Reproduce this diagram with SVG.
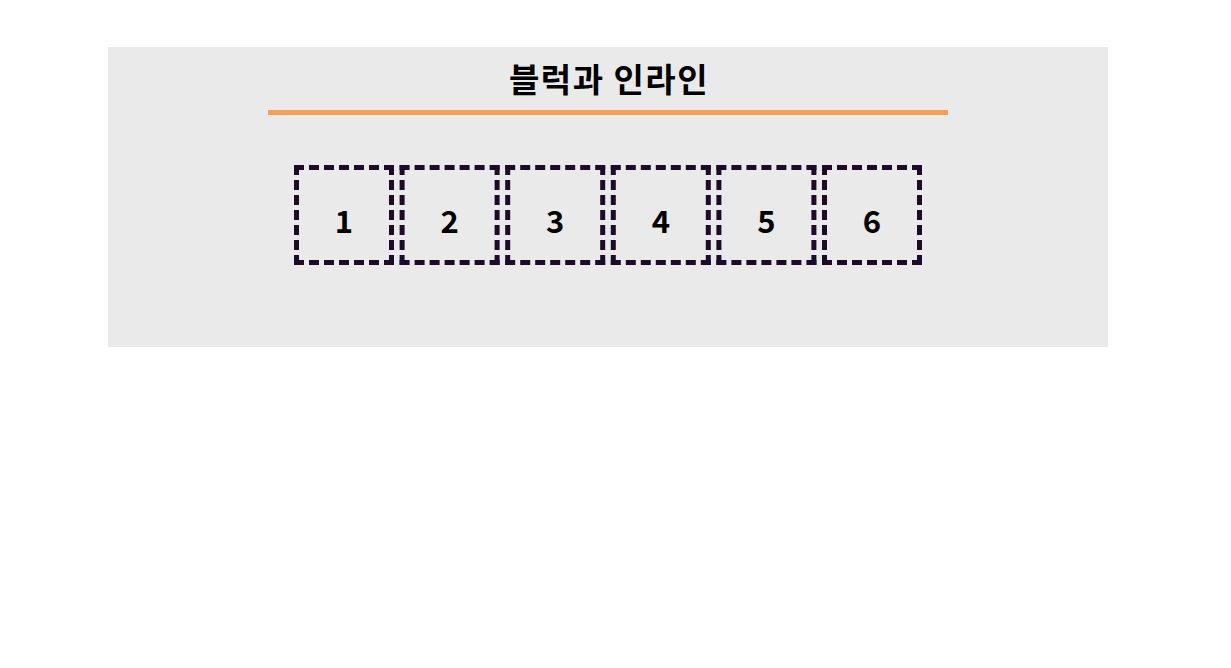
<svg xmlns="http://www.w3.org/2000/svg" xmlns:xlink="http://www.w3.org/1999/xlink" width="1231" height="668" viewBox="0 0 1231 668">
  <style>
    .panel { fill: #eaeaea; }
    .rule { fill: #f79f55; }
    .title { font-family: "Noto Sans CJK KR", "Noto Sans", sans-serif; font-weight: bold; font-size: 33px; letter-spacing: 1.5px; fill: #000; text-anchor: middle; }
    .edge { stroke: #1d0b2a; stroke-width: 5; stroke-dasharray: 10 5; fill: none; }
    .num { font-family: "Noto Sans CJK KR", "Noto Sans", sans-serif; font-weight: bold; font-size: 31px; fill: #000; text-anchor: middle; }
  </style>
  <defs>
    <g id="frame">
      <line class="edge" x1="0" y1="2.5" x2="100" y2="2.5"/>
      <line class="edge" x1="0" y1="97.5" x2="100" y2="97.5"/>
      <line class="edge" x1="2.5" y1="0" x2="2.5" y2="100"/>
      <line class="edge" x1="97.5" y1="0" x2="97.5" y2="100"/>
    </g>
  </defs>
  <rect width="1231" height="668" fill="#ffffff"/>
  <g id="container">
    <rect class="panel" x="108" y="47" width="1000" height="300"/>
    <text class="title" x="609" y="92">블럭과 인라인</text>
    <rect class="rule" x="268" y="110" width="680" height="5"/>
  </g>
  <g id="connectors"></g>
  <g id="box1"><use xlink:href="#frame" x="294" y="165"/><text class="num" x="344" y="233">1</text></g>
  <g id="box2"><use xlink:href="#frame" x="399.6" y="165"/><text class="num" x="449.6" y="233">2</text></g>
  <g id="box3"><use xlink:href="#frame" x="505.2" y="165"/><text class="num" x="555.2" y="233">3</text></g>
  <g id="box4"><use xlink:href="#frame" x="610.8" y="165"/><text class="num" x="660.8" y="233">4</text></g>
  <g id="box5"><use xlink:href="#frame" x="716.4" y="165"/><text class="num" x="766.4" y="233">5</text></g>
  <g id="box6"><use xlink:href="#frame" x="822" y="165"/><text class="num" x="872" y="233">6</text></g>
</svg>
